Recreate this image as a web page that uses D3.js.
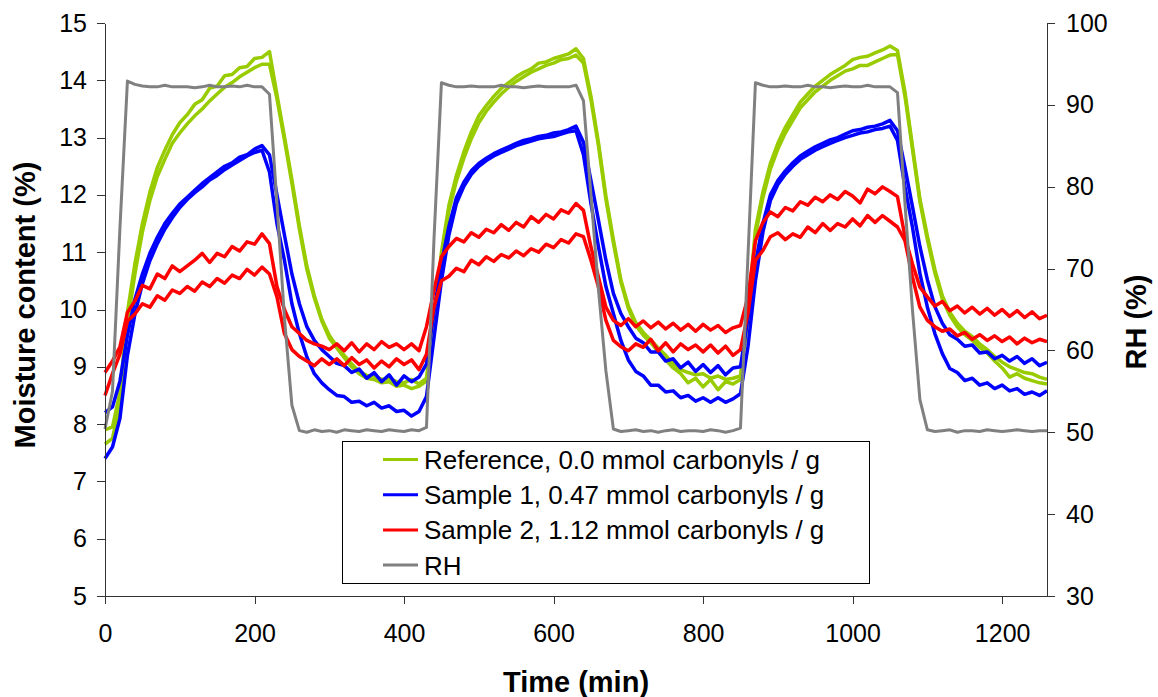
<!DOCTYPE html>
<html>
<head>
<meta charset="utf-8">
<script src="https://cdn.jsdelivr.net/npm/d3@7"></script>
<style>
    body { margin: 0; background: #fff; }
    svg { display: block; font-family: "Liberation Sans", Arial, sans-serif; }
    .axis path, .axis line { stroke: #333; stroke-width: 1px; shape-rendering: crispEdges; }
    .axis text { font-size: 25px; fill: #000; }
    .title { font-size: 29px; font-weight: bold; fill: #000; }
    .legend text { font-size: 26px; fill: #000; }
</style>
</head>
<body>
<svg id="chart" width="1158" height="697"></svg>
<script>
// time in minutes, one reading every 10 min
const timeMin = [
    0, 10, 20, 30, 40, 50, 60, 70, 80, 90,
    100, 110, 120, 130, 140, 150, 160, 170, 180, 190,
    200, 210, 220, 230, 240, 250, 260, 270, 280, 290,
    300, 310, 320, 330, 340, 350, 360, 370, 380, 390,
    400, 410, 420, 430, 440, 450, 460, 470, 480, 490,
    500, 510, 520, 530, 540, 550, 560, 570, 580, 590,
    600, 610, 620, 630, 640, 650, 660, 670, 680, 690,
    700, 710, 720, 730, 740, 750, 760, 770, 780, 790,
    800, 810, 820, 830, 840, 850, 860, 870, 880, 890,
    900, 910, 920, 930, 940, 950, 960, 970, 980, 990,
    1000, 1010, 1020, 1030, 1040, 1050, 1060, 1070, 1080, 1090,
    1100, 1110, 1120, 1130, 1140, 1150, 1160, 1170, 1180, 1190,
    1200, 1210, 1220, 1230, 1240, 1250, 1260
];

// relative humidity (%), right axis
const rh = [
    50.4, 55.0, 75.0, 92.9, 92.5, 92.3, 92.2, 92.2, 92.4, 92.2,
    92.2, 92.2, 92.1, 92.2, 92.4, 92.2, 92.2, 92.3, 92.2, 92.4,
    92.2, 92.2, 91.3, 78.0, 64.0, 53.3, 50.2, 50.0, 50.3, 50.1,
    50.2, 50.0, 50.3, 50.2, 50.1, 50.3, 50.2, 50.1, 50.3, 50.2,
    50.1, 50.3, 50.2, 50.6, 73.5, 92.7, 92.4, 92.2, 92.2, 92.3,
    92.2, 92.2, 92.2, 92.4, 92.2, 92.2, 92.1, 92.2, 92.3, 92.2,
    92.2, 92.2, 92.2, 92.4, 90.5, 79.0, 67.5, 57.5, 50.4, 50.1,
    50.2, 50.3, 50.1, 50.2, 50.0, 50.2, 50.3, 50.1, 50.2, 50.2,
    50.1, 50.3, 50.2, 50.0, 50.2, 50.5, 71.5, 92.7, 92.4, 92.2,
    92.2, 92.3, 92.2, 92.2, 92.4, 92.2, 92.2, 92.1, 92.2, 92.3,
    92.2, 92.2, 92.4, 92.2, 92.2, 92.2, 91.5, 78.0, 65.0, 54.0,
    50.3, 50.1, 50.2, 50.3, 50.0, 50.2, 50.2, 50.1, 50.3, 50.2,
    50.1, 50.2, 50.3, 50.2, 50.1, 50.2, 50.2
];

// moisture content (%), two runs per material
const refA = [
    7.90, 7.95, 8.55, 9.95, 10.80, 11.50, 12.05, 12.48, 12.78, 13.05,
    13.26, 13.40, 13.58, 13.66, 13.86, 13.90, 14.08, 14.10, 14.22, 14.24,
    14.38, 14.40, 14.50, 13.75, 13.02, 12.27, 11.46, 10.76, 10.24, 9.83,
    9.55, 9.36, 9.20, 9.05, 8.92, 8.85, 8.84, 8.78, 8.80, 8.74,
    8.72, 8.78, 8.70, 8.80, 9.85, 11.00, 11.82, 12.34, 12.75, 13.10,
    13.38, 13.56, 13.72, 13.86, 13.96, 14.06, 14.14, 14.20, 14.30, 14.32,
    14.38, 14.42, 14.46, 14.55, 14.38, 13.72, 12.92, 11.98, 11.22, 10.52,
    10.06, 9.77, 9.60, 9.47, 9.33, 9.20, 9.05, 8.95, 8.90, 8.86,
    8.88, 8.80, 8.84, 8.78, 8.80, 8.84, 9.95, 11.40, 12.05, 12.55,
    12.90, 13.18, 13.40, 13.62, 13.76, 13.90, 14.00, 14.10, 14.18, 14.26,
    14.36, 14.40, 14.42, 14.48, 14.53, 14.60, 14.52, 13.80, 12.86, 11.93,
    11.28, 10.70, 10.24, 9.95, 9.76, 9.62, 9.53, 9.40, 9.30, 9.18,
    9.08, 9.00, 8.95, 8.90, 8.88, 8.82, 8.78
];
const refB = [
    7.65, 7.75, 8.35, 9.75, 10.62, 11.35, 11.90, 12.32, 12.62, 12.90,
    13.08, 13.24, 13.38, 13.50, 13.64, 13.76, 13.88, 13.96, 14.06, 14.14,
    14.22, 14.28, 14.28, 13.68, 12.96, 12.20, 11.40, 10.70, 10.20, 9.80,
    9.50, 9.33, 9.16, 9.00, 8.88, 8.80, 8.78, 8.72, 8.74, 8.66,
    8.68, 8.62, 8.66, 8.75, 9.70, 10.90, 11.72, 12.24, 12.64, 12.98,
    13.26, 13.46, 13.62, 13.76, 13.88, 13.98, 14.06, 14.14, 14.20, 14.26,
    14.30, 14.36, 14.38, 14.44, 14.30, 13.66, 12.86, 11.92, 11.16, 10.48,
    10.02, 9.72, 9.55, 9.42, 9.26, 9.12, 8.98, 8.88, 8.72, 8.80,
    8.65, 8.78, 8.60, 8.74, 8.70, 8.78, 9.85, 11.30, 11.95, 12.45,
    12.80, 13.08, 13.30, 13.52, 13.66, 13.80, 13.90, 14.00, 14.08, 14.16,
    14.20, 14.26, 14.26, 14.32, 14.38, 14.44, 14.45, 13.72, 12.80, 11.88,
    11.22, 10.64, 10.18, 9.90, 9.70, 9.56, 9.46, 9.34, 9.24, 9.10,
    8.98, 8.82, 8.88, 8.80, 8.76, 8.72, 8.70
];
const s1A = [
    8.20, 8.30, 8.75, 9.55, 10.18, 10.62, 10.98, 11.26, 11.50, 11.68,
    11.84, 11.96, 12.08, 12.20, 12.30, 12.40, 12.50, 12.56, 12.66, 12.70,
    12.80, 12.86, 12.70, 12.00, 11.30, 10.62, 10.10, 9.70, 9.46, 9.30,
    9.18, 9.06, 9.02, 8.90, 8.96, 8.80, 8.90, 8.74, 8.86, 8.68,
    8.84, 8.74, 8.82, 9.05, 9.95, 10.80, 11.45, 11.95, 12.22, 12.42,
    12.55, 12.64, 12.72, 12.78, 12.84, 12.90, 12.95, 12.98, 13.02, 13.04,
    13.08, 13.10, 13.14, 13.20, 12.92, 12.25, 11.56, 10.86, 10.28, 9.93,
    9.70, 9.50, 9.42, 9.26, 9.26, 9.10, 9.14, 8.98, 9.08, 8.92,
    9.04, 8.90, 9.02, 8.86, 8.98, 9.00, 9.85, 10.80, 11.50, 12.00,
    12.25, 12.42, 12.56, 12.68, 12.76, 12.84, 12.90, 12.96, 13.00, 13.06,
    13.12, 13.14, 13.18, 13.20, 13.24, 13.30, 13.12, 12.48, 11.80, 11.10,
    10.52, 10.05, 9.76, 9.56, 9.48, 9.36, 9.38, 9.24, 9.26, 9.14,
    9.20, 9.10, 9.18, 9.06, 9.14, 9.02, 9.08
];
const s1B = [
    7.40, 7.60, 8.10, 9.20, 9.92, 10.45, 10.85, 11.15, 11.40, 11.60,
    11.78, 11.92, 12.04, 12.14, 12.26, 12.34, 12.44, 12.52, 12.60, 12.68,
    12.74, 12.78, 12.40, 11.50, 10.86, 10.10, 9.58, 9.17, 8.88, 8.72,
    8.60, 8.50, 8.48, 8.38, 8.40, 8.32, 8.38, 8.28, 8.32, 8.22,
    8.24, 8.14, 8.22, 8.48, 9.50, 10.50, 11.30, 11.85, 12.15, 12.36,
    12.50, 12.60, 12.68, 12.74, 12.80, 12.86, 12.90, 12.94, 12.98, 13.00,
    13.02, 13.06, 13.10, 13.12, 12.70, 11.85, 11.10, 10.40, 9.93, 9.46,
    9.12, 8.92, 8.84, 8.68, 8.68, 8.56, 8.58, 8.46, 8.50, 8.40,
    8.46, 8.38, 8.46, 8.38, 8.44, 8.53, 9.35, 10.50, 11.35, 11.90,
    12.18, 12.36, 12.50, 12.62, 12.70, 12.78, 12.84, 12.90, 12.95, 13.00,
    13.04, 13.08, 13.10, 13.14, 13.16, 13.20, 12.95, 12.14, 11.44, 10.63,
    10.04, 9.58, 9.23, 8.97, 8.90, 8.76, 8.80, 8.68, 8.72, 8.62,
    8.68, 8.58, 8.62, 8.52, 8.56, 8.50, 8.58
];
const s2A = [
    8.90, 9.10, 9.35, 9.95, 10.15, 10.42, 10.36, 10.62, 10.54, 10.76,
    10.66, 10.76, 10.86, 10.98, 10.82, 10.98, 10.92, 11.10, 11.02, 11.18,
    11.14, 11.32, 11.15, 10.40, 10.00, 9.70, 9.58, 9.46, 9.40, 9.36,
    9.30, 9.40, 9.28, 9.42, 9.26, 9.40, 9.30, 9.44, 9.34, 9.40,
    9.30, 9.40, 9.28, 9.70, 10.33, 10.92, 11.10, 11.24, 11.18, 11.34,
    11.26, 11.40, 11.34, 11.48, 11.38, 11.52, 11.44, 11.62, 11.52, 11.66,
    11.58, 11.74, 11.68, 11.85, 11.73, 11.09, 10.57, 10.04, 9.81, 9.72,
    9.84, 9.70, 9.80, 9.68, 9.78, 9.66, 9.76, 9.64, 9.74, 9.62,
    9.74, 9.64, 9.72, 9.60, 9.68, 9.72, 10.22, 11.20, 11.52, 11.70,
    11.62, 11.78, 11.72, 11.88, 11.82, 11.96, 11.88, 12.00, 11.92, 12.06,
    11.98, 11.86, 12.10, 12.02, 12.14, 12.06, 11.97, 11.27, 10.80, 10.39,
    10.22, 10.06, 10.14, 9.98, 10.06, 9.94, 10.04, 9.92, 10.02, 9.90,
    10.00, 9.88, 9.98, 9.86, 9.96, 9.84, 9.90
];
const s2B = [
    8.50, 8.88, 9.22, 9.80, 9.92, 10.10, 10.04, 10.24, 10.16, 10.34,
    10.28, 10.40, 10.32, 10.48, 10.40, 10.54, 10.46, 10.60, 10.54, 10.70,
    10.60, 10.74, 10.62, 10.22, 9.58, 9.30, 9.18, 9.10, 9.02, 9.14,
    9.04, 9.14, 9.02, 9.16, 9.04, 9.12, 8.98, 9.10, 9.00, 9.14,
    9.04, 9.12, 8.95, 9.22, 10.04, 10.50, 10.58, 10.72, 10.66, 10.86,
    10.78, 10.92, 10.84, 10.96, 10.90, 11.02, 10.94, 11.06, 11.00, 11.14,
    11.08, 11.22, 11.16, 11.32, 11.27, 10.86, 10.39, 9.81, 9.46, 9.35,
    9.28, 9.40, 9.34, 9.48, 9.28, 9.42, 9.26, 9.40, 9.30, 9.38,
    9.26, 9.38, 9.24, 9.36, 9.20, 9.30, 9.93, 10.86, 11.03, 11.27,
    11.34, 11.22, 11.32, 11.26, 11.44, 11.34, 11.50, 11.38, 11.50, 11.44,
    11.58, 11.46, 11.64, 11.52, 11.64, 11.54, 11.44, 11.20, 10.57, 10.04,
    9.81, 9.70, 9.62, 9.66, 9.54, 9.60, 9.48, 9.56, 9.46, 9.54,
    9.44, 9.52, 9.40, 9.50, 9.42, 9.48, 9.44
];

const legendNames = [
    'Reference, 0.0 mmol carbonyls / g',
    'Sample 1, 0.47 mmol carbonyls / g',
    'Sample 2, 1.12 mmol carbonyls / g',
    'RH'
];
const colors = ['#99CC00', '#0000FF', '#FF0000', '#808080'];
const xTicks = [0, 200, 400, 600, 800, 1000, 1200];
const leftTicks = [5, 6, 7, 8, 9, 10, 11, 12, 13, 14, 15];
const rightTicks = [30, 40, 50, 60, 70, 80, 90, 100];

let svg = d3.select('#chart');
let plotLeft = 105, plotRight = 1047, plotTop = 23, plotBottom = 596;

let x = d3.scaleLinear().domain([0, 1260]).range([plotLeft, plotRight]);
let yL = d3.scaleLinear().domain([5, 15]).range([plotBottom, plotTop]);
let yR = d3.scaleLinear().domain([30, 100]).range([plotBottom, plotTop]);

// moisture curves (green, blue, red), RH on top
let moistSeries = [
    {values: refA, color: colors[0]},
    {values: refB, color: colors[0]},
    {values: s1A, color: colors[1]},
    {values: s1B, color: colors[1]},
    {values: s2A, color: colors[2]},
    {values: s2B, color: colors[2]}
];

let lineL = d3.line()
    .x(function (d, i) { return x(timeMin[i]); })
    .y(function (d) { return yL(d); });
let lineR = d3.line()
    .x(function (d, i) { return x(timeMin[i]); })
    .y(function (d) { return yR(d); });

svg.append('g')
    .selectAll('path')
    .data(moistSeries)
    .enter().append('path')
    .attr('d', function (d) { return lineL(d.values); })
    .attr('fill', 'none')
    .attr('stroke', function (d) { return d.color; })
    .attr('stroke-width', 3.5)
    .attr('stroke-linejoin', 'round');

svg.append('path')
    .attr('d', lineR(rh))
    .attr('fill', 'none')
    .attr('stroke', colors[3])
    .attr('stroke-width', 3)
    .attr('stroke-linejoin', 'round');

// axes
svg.append('g')
    .attr('class', 'axis')
    .attr('transform', 'translate(' + plotLeft + ',0)')
    .call(d3.axisLeft(yL).tickValues(leftTicks).tickSize(8).tickPadding(10).tickSizeOuter(0));

svg.append('g')
    .attr('class', 'axis')
    .attr('transform', 'translate(0,' + plotBottom + ')')
    .call(d3.axisBottom(x).tickValues(xTicks).tickFormat(d3.format('d'))
        .tickSize(8).tickPadding(20).tickSizeOuter(0));

svg.append('g')
    .attr('class', 'axis')
    .attr('transform', 'translate(' + plotRight + ',0)')
    .call(d3.axisRight(yR).tickValues(rightTicks).tickSize(8).tickPadding(11).tickSizeOuter(0));

// axis titles
svg.append('text')
    .attr('class', 'title')
    .attr('text-anchor', 'middle')
    .attr('x', (plotLeft + plotRight) / 2)
    .attr('y', 692)
    .text('Time (min)');

svg.append('text')
    .attr('class', 'title')
    .attr('text-anchor', 'middle')
    .attr('transform', 'translate(35,305) rotate(-90)')
    .text('Moisture content (%)');

svg.append('text')
    .attr('class', 'title')
    .attr('text-anchor', 'middle')
    .attr('transform', 'translate(1146,322) rotate(-90)')
    .text('RH (%)');

// legend
let legend = svg.append('g').attr('class', 'legend');
legend.append('rect')
    .attr('x', 342.5).attr('y', 441.5)
    .attr('width', 527).attr('height', 142)
    .attr('fill', '#fff')
    .attr('stroke', '#000')
    .attr('stroke-width', 1);

let rows = legend.selectAll('g.row')
    .data(legendNames)
    .enter().append('g')
    .attr('class', 'row')
    .attr('transform', function (d, i) { return 'translate(0,' + (459.5 + i * 35.2) + ')'; });

rows.append('line')
    .attr('x1', 383).attr('x2', 418)
    .attr('y1', 0).attr('y2', 0)
    .attr('stroke', function (d, i) { return colors[i]; })
    .attr('stroke-width', 3);

rows.append('text')
    .attr('x', 424)
    .attr('y', 9.5)
    .text(function (d) { return d; });
</script>
</body>
</html>
